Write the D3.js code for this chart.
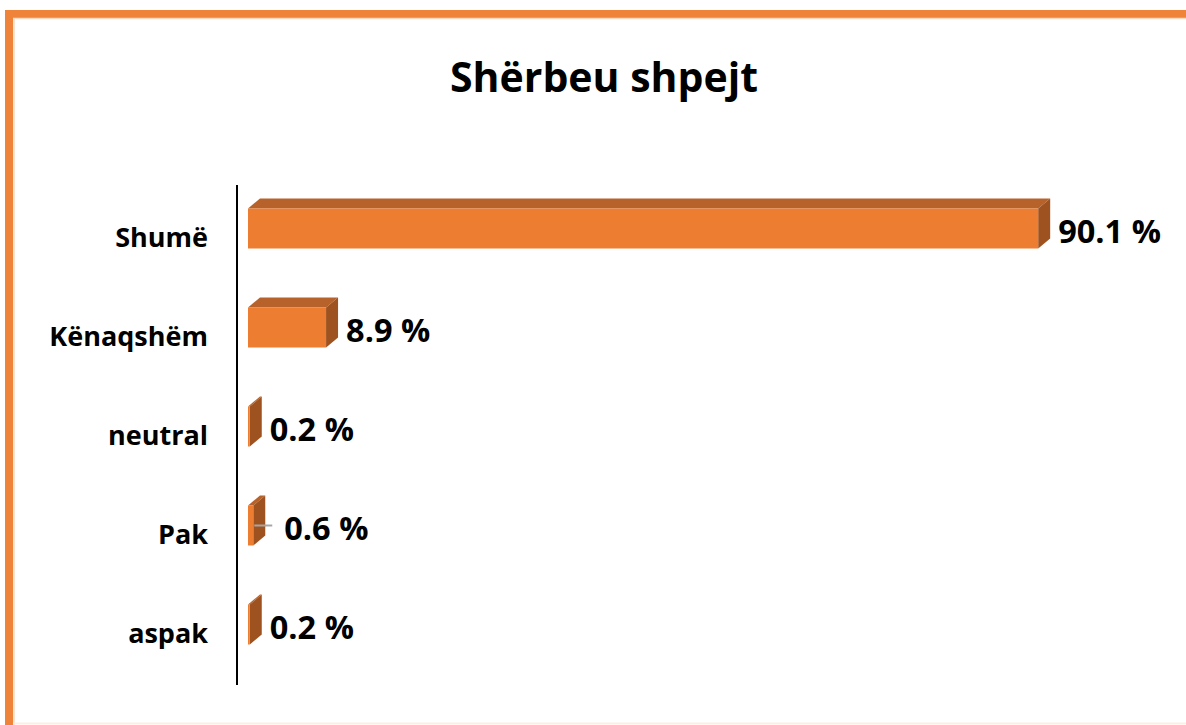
<!DOCTYPE html>
<html lang="sq">
<head>
<meta charset="UTF-8">
<title>Shërbeu shpejt</title>
<script src="https://cdn.jsdelivr.net/npm/d3@7"></script>
<style>
  body { margin: 0; background: #fff; }
  svg { display: block; }
  text { font-family: 'Open Sans', sans-serif; font-weight: bold; fill: #000; }
</style>
</head>
<body>
<div id="chart"></div>
<script>
// te dhenat
const categories = ["Shumë", "Kënaqshëm", "neutral", "Pak", "aspak"];
const values = [90.1, 8.9, 0.2, 0.6, 0.2];
const valueLabels = ["90.1 %", "8.9 %", "0.2 %", "0.6 %", "0.2 %"];
const title = "Shërbeu shpejt";

const W = 1186, H = 725;
const dx = 12, dy = 10; // thellesia 3D
const faceH = 40;       // lartesia e fases perpara

const svg = d3.select("#chart").append("svg")
  .attr("width", W).attr("height", H);

// korniza portokalli
svg.append("line").attr("x1", 9).attr("x2", 9).attr("y1", 10).attr("y2", H)
  .attr("stroke", "#F0833A").attr("stroke-width", 8);
svg.append("line").attr("x1", 5).attr("x2", W).attr("y1", 14).attr("y2", 14)
  .attr("stroke", "#F0833A").attr("stroke-width", 8);
svg.append("line").attr("x1", 14).attr("x2", 14).attr("y1", 18).attr("y2", H)
  .attr("stroke", "#FBD9C2").attr("stroke-width", 1.5);
svg.append("line").attr("x1", 13).attr("x2", W).attr("y1", 18.5).attr("y2", 18.5)
  .attr("stroke", "#FBD9C2").attr("stroke-width", 1.5);
svg.append("line").attr("x1", 13).attr("x2", W).attr("y1", 723.5).attr("y2", 723.5)
  .attr("stroke", "#FDEDE3").attr("stroke-width", 2);

// titulli
svg.append("text")
  .attr("x", 604).attr("y", 76)
  .attr("text-anchor", "middle")
  .attr("dominant-baseline", "central")
  .style("font-size", "41px")
  .text(title);

const x = d3.scaleLinear().domain([0, 100]).range([248, 1125]);
const y = d3.scaleBand().domain(categories).range([187, 682]);

// boshti vertikal
svg.append("line")
  .attr("x1", 237).attr("x2", 237)
  .attr("y1", 185).attr("y2", 685)
  .attr("stroke", "#000").attr("stroke-width", 2);

// etiketat e kategorive
svg.selectAll(".cat")
  .data(categories)
  .join("text")
  .attr("class", "cat")
  .attr("x", 208)
  .attr("y", d => y(d) + y.bandwidth() / 2)
  .attr("text-anchor", "end")
  .attr("dominant-baseline", "central")
  .style("font-size", "27px")
  .text(d => d);

const rows = categories.map((c, i) => ({ cat: c, v: values[i], label: valueLabels[i] }));
const faceTop = d => y(d.cat) + y.bandwidth() / 2 - 8 - faceH / 2;

const bar = svg.selectAll(".bar")
  .data(rows)
  .join("g")
  .attr("class", "bar");

// faqja e siperme
bar.append("path")
  .attr("fill", "#B7622A")
  .attr("d", d => {
    const x0 = x(0), x1 = x(d.v), t = faceTop(d);
    return `M${x0},${t}L${x0 + dx},${t - dy}L${x1 + dx},${t - dy}L${x1},${t}Z`;
  });

// faqja anesore
bar.append("path")
  .attr("fill", "#9E5220")
  .attr("d", d => {
    const x1 = x(d.v), t = faceTop(d);
    return `M${x1},${t}L${x1 + dx},${t - dy}L${x1 + dx},${t + faceH - dy}L${x1},${t + faceH}Z`;
  });

// faqja perpara
bar.append("rect")
  .attr("fill", "#ED7D31")
  .attr("x", x(0))
  .attr("y", d => faceTop(d))
  .attr("width", d => x(d.v) - x(0))
  .attr("height", faceH);

// vija udhezuese per "Pak"
bar.filter(d => d.cat === "Pak")
  .append("line")
  .attr("x1", d => x(d.v) + 1).attr("x2", d => x(d.v) + dx + 7)
  .attr("y1", d => faceTop(d) + faceH / 2).attr("y2", d => faceTop(d) + faceH / 2)
  .attr("stroke", "#A6A6A6").attr("stroke-width", 2);

// etiketat e vlerave
bar.append("text")
  .attr("x", d => x(d.v) + dx + (d.cat === "Pak" ? 19 : 8))
  .attr("y", d => faceTop(d) + faceH / 2 + 2)
  .attr("dominant-baseline", "central")
  .style("font-size", "32.5px")
  .text(d => d.label);
</script>
</body>
</html>
